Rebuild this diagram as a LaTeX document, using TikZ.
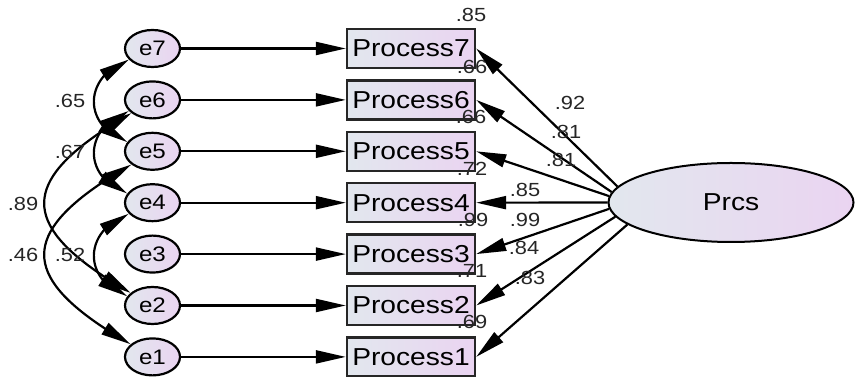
\documentclass[tikz,border=0pt]{standalone}
\usepackage{fontspec}
\setmainfont{Liberation Sans}[FakeStretch=1.15]
\usetikzlibrary{arrows.meta,shapes.geometric,bending}
\definecolor{fillL}{HTML}{E2E7EE}
\definecolor{fillR}{HTML}{EAD4F1}

\begin{document}
\begin{tikzpicture}[x=1pt,y=1pt,
                    errND/.style={ellipse,
                                  draw=black,
                                  line width=2.2pt,
                                  left color=fillL,
                                  right color=fillR,
                                  minimum width=55pt,
                                  minimum height=37pt,
                                  inner sep=0pt,
                                  font=\fontsize{21}{24}\selectfont},
                    obsND/.style={rectangle,
                                  draw=black!85,
                                  line width=2.4pt,
                                  left color=fillL,
                                  right color=fillR,
                                  minimum width=128pt,
                                  minimum height=39pt,
                                  inner sep=0pt,
                                  font=\fontsize{24.5}{28}\selectfont},
                    latND/.style={ellipse,
                                  draw=black,
                                  line width=2pt,
                                  left color=fillL,
                                  right color=fillR,
                                  minimum width=245pt,
                                  minimum height=79pt,
                                  inner sep=0pt,
                                  font=\fontsize{24.5}{28}\selectfont},
                    numLB/.style={font=\fontsize{19}{21}\selectfont,
                                  inner sep=0pt,
                                  text=black!85},
                    oneArr/.style={-{Triangle[length=30pt,width=13pt]},
                                   line width=2.2pt},
                    twoArr/.style={{Triangle[length=30pt,width=13pt]}-{Triangle[length=30pt,width=13pt]},
                                   line width=2.2pt}]
                \useasboundingbox (0,0) rectangle (855,377);
                % error terms
                \node[errND](e7) at (152.5,328.5) {e7};
                \node[errND](e6) at (152.5,277.1) {e6};
                \node[errND](e5) at (152.5,225.7) {e5};
                \node[errND](e4) at (152.5,174.3) {e4};
                \node[errND](e3) at (152.5,122.9) {e3};
                \node[errND](e2) at (152.5,71.5)  {e2};
                \node[errND](e1) at (152.5,20.1)  {e1};
                % observed items
                \node[obsND](P7) at (411,328.5) {Process7};
                \node[obsND](P6) at (411,277.1) {Process6};
                \node[obsND](P5) at (411,225.7) {Process5};
                \node[obsND](P4) at (411,174.3) {Process4};
                \node[obsND](P3) at (411,122.9) {Process3};
                \node[obsND](P2) at (411,71.5)  {Process2};
                \node[obsND](P1) at (411,20.1)  {Process1};
                % latent factor
                \node[latND](Prcs) at (731,174.5) {Prcs};
                \path
                    (e7) edge [oneArr] (P7)
                    (e6) edge [oneArr] (P6)
                    (e5) edge [oneArr] (P5)
                    (e4) edge [oneArr] (P4)
                    (e3) edge [oneArr] (P3)
                    (e2) edge [oneArr] (P2)
                    (e1) edge [oneArr] (P1)
                    (Prcs.172) edge [oneArr] (P7.east)
                    (Prcs.175) edge [oneArr] (P6.east)
                    (Prcs.177) edge [oneArr] (P5.east)
                    (Prcs.180) edge [oneArr] (P4.east)
                    (Prcs.183) edge [oneArr] (P3.east)
                    (Prcs.187) edge [oneArr] (P2.east)
                    (Prcs.192) edge [oneArr] (P1.east)
                    (e7.205) edge [twoArr, out=200, in=160, looseness=1.5] (e5.160)
                    (e6.205) edge [twoArr, out=200, in=160, looseness=1.5] (e4.160)
                    (e4.205) edge [twoArr, out=200, in=160, looseness=1.5] (e2.160)
                    (e6.212) edge [twoArr, out=210, in=150, looseness=1.9] (e2.150)
                    (e5.212) edge [twoArr, out=210, in=150, looseness=1.9] (e1.150)
                    ;
                % loadings
                \node[numLB](l7) at (570,274) {.92};
                \node[numLB](l6) at (566,245) {.81};
                \node[numLB](l5) at (561,217) {.81};
                \node[numLB](l4) at (525,187) {.85};
                \node[numLB](l3) at (525,157) {.99};
                \node[numLB](l2) at (524,129) {.84};
                \node[numLB](l1) at (530,99)  {.83};
                % squared multiple correlations
                \node[numLB](r7) at (471,362) {.85};
                \node[numLB](r6) at (472,310) {.66};
                \node[numLB](r5) at (471,260) {.66};
                \node[numLB](r4) at (472,208) {.72};
                \node[numLB](r3) at (473,157) {.99};
                \node[numLB](r2) at (472,106) {.71};
                \node[numLB](r1) at (472,55)  {.69};
                % covariances
                \node[numLB](c75) at (70,276) {.65};
                \node[numLB](c64) at (70,225) {.67};
                \node[numLB](c62) at (23,173) {.89};
                \node[numLB](c51) at (23,122) {.46};
                \node[numLB](c42) at (70,122) {.52};
            \end{tikzpicture}
\end{document}
